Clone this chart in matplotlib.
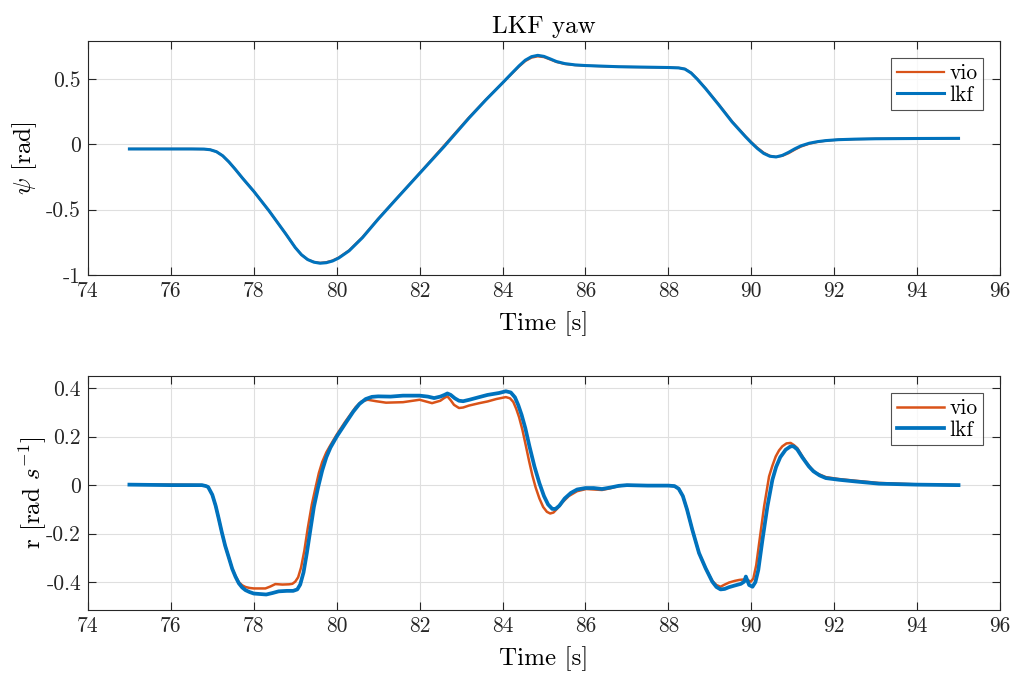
import matplotlib
matplotlib.use("Agg")
import matplotlib.pyplot as plt

plt.rcParams['font.family'] = 'serif'
plt.rcParams['font.serif'] = ['cmr10', 'DejaVu Serif']
plt.rcParams['mathtext.fontset'] = 'cm'
plt.rcParams['axes.unicode_minus'] = False

# ---- yaw angle psi [rad] ----
t_psi = [75.0, 76.5, 76.8, 76.95, 77.1, 77.25, 77.4, 77.55, 77.73, 78.0, 78.37, 78.77,
         79.0, 79.15, 79.3, 79.45, 79.6, 79.75, 79.9, 80.05, 80.3, 80.62, 81.0, 81.42,
         82.0, 82.59, 83.19, 83.6, 84.0, 84.2, 84.4, 84.55, 84.7, 84.85, 85.0, 85.15,
         85.3, 85.5, 85.75, 86.0, 86.8, 88.0, 88.25, 88.4, 88.55, 88.7, 88.9, 89.22,
         89.54, 89.86, 90.0, 90.15, 90.3, 90.45, 90.6, 90.75, 90.9, 91.05, 91.2, 91.4,
         91.6, 91.8, 92.1, 92.5, 93.0, 94.0, 95.0]
psi_lkf = [-0.036, -0.036, -0.037, -0.042, -0.057, -0.088, -0.135, -0.19, -0.26, -0.36, -0.51, -0.685,
           -0.79, -0.845, -0.882, -0.902, -0.91, -0.906, -0.893, -0.870, -0.815, -0.715, -0.573, -0.425,
           -0.223, -0.018, 0.20, 0.34, 0.469, 0.535, 0.60, 0.643, 0.67, 0.68, 0.672, 0.653,
           0.633, 0.617, 0.607, 0.602, 0.593, 0.587, 0.584, 0.575, 0.545, 0.497, 0.425, 0.30,
           0.17, 0.058, 0.012, -0.033, -0.07, -0.092, -0.097, -0.085, -0.062, -0.035, -0.012, 0.008,
           0.02, 0.028, 0.035, 0.039, 0.042, 0.044, 0.045]
psi_vio = [-0.036, -0.036, -0.037, -0.042, -0.057, -0.088, -0.135, -0.19, -0.26, -0.36, -0.51, -0.685,
           -0.79, -0.845, -0.882, -0.900, -0.907, -0.902, -0.889, -0.866, -0.811, -0.711, -0.570, -0.423,
           -0.221, -0.010, 0.205, 0.342, 0.469, 0.532, 0.595, 0.636, 0.662, 0.672, 0.666, 0.648,
           0.629, 0.614, 0.605, 0.601, 0.592, 0.587, 0.584, 0.576, 0.547, 0.499, 0.427, 0.303,
           0.174, 0.062, 0.017, -0.027, -0.064, -0.088, -0.097, -0.089, -0.069, -0.042, -0.018, 0.004,
           0.018, 0.027, 0.035, 0.039, 0.042, 0.044, 0.045]

# ---- yaw rate r [rad/s] ----
t_r_lkf = [75.0, 75.5, 76.0, 76.5, 76.75, 76.85, 76.9, 77.0, 77.08, 77.15, 77.23, 77.31,
           77.4, 77.48, 77.56, 77.64, 77.72, 77.8, 77.9, 78.0, 78.15, 78.3, 78.45, 78.6,
           78.8, 78.95, 79.05, 79.12, 79.2, 79.28, 79.36, 79.45, 79.55, 79.65, 79.75, 79.85,
           80.0, 80.2, 80.4, 80.55, 80.7, 80.85, 81.0, 81.3, 81.6, 82.0, 82.2, 82.35,
           82.5, 82.6, 82.67, 82.75, 82.85, 82.95, 83.05, 83.2, 83.44, 83.64, 83.92, 84.08,
           84.2, 84.3, 84.38, 84.46, 84.55, 84.65, 84.77, 84.89, 85.0, 85.1, 85.2, 85.28,
           85.37, 85.5, 85.65, 85.8, 86.0, 86.2, 86.4, 86.6, 86.8, 87.0, 87.5, 88.0,
           88.15, 88.25, 88.35, 88.45, 88.58, 88.74, 88.9, 89.06, 89.16, 89.26, 89.36, 89.46,
           89.6, 89.75, 89.83, 89.87, 89.91, 89.95, 90.03, 90.1, 90.17, 90.27, 90.39, 90.51,
           90.6, 90.7, 90.83, 90.95, 91.02, 91.11, 91.23, 91.39, 91.5, 91.65, 91.8, 92.12,
           92.52, 93.08, 94.0, 95.0]
r_lkf = [0.002, 0.001, 0.0, 0.0, 0.0, -0.004, -0.008, -0.04, -0.085, -0.135, -0.195, -0.25,
         -0.30, -0.345, -0.378, -0.405, -0.422, -0.433, -0.441, -0.447, -0.449, -0.451, -0.445, -0.438,
         -0.436, -0.436, -0.43, -0.41, -0.36, -0.28, -0.19, -0.09, -0.01, 0.06, 0.115, 0.155,
         0.20, 0.252, 0.303, 0.335, 0.355, 0.364, 0.366, 0.365, 0.369, 0.369, 0.365, 0.359,
         0.365, 0.372, 0.378, 0.372, 0.358, 0.348, 0.346, 0.352, 0.363, 0.372, 0.38, 0.387,
         0.382, 0.362, 0.33, 0.29, 0.235, 0.16, 0.077, 0.008, -0.045, -0.08, -0.098, -0.098,
         -0.085, -0.055, -0.032, -0.018, -0.012, -0.012, -0.016, -0.01, -0.003, 0.0, -0.002, -0.002,
         -0.004, -0.015, -0.045, -0.10, -0.185, -0.28, -0.343, -0.398, -0.42, -0.43, -0.428, -0.421,
         -0.414, -0.407, -0.398, -0.377, -0.395, -0.412, -0.419, -0.40, -0.35, -0.226, -0.088, 0.022,
         0.075, 0.115, 0.146, 0.16, 0.16, 0.147, 0.115, 0.077, 0.057, 0.04, 0.029, 0.022,
         0.015, 0.006, 0.002, 0.0]
t_r_vio = [75.0, 75.5, 76.0, 76.5, 76.75, 76.85, 76.9, 77.0, 77.08, 77.15, 77.23, 77.31,
           77.4, 77.48, 77.56, 77.64, 77.72, 77.8, 77.9, 78.0, 78.28, 78.4, 78.52, 78.69,
           78.85, 78.93, 79.0, 79.07, 79.14, 79.22, 79.3, 79.4, 79.49, 79.57, 79.65, 79.75,
           79.85, 80.0, 80.2, 80.46, 80.6, 80.75, 80.95, 81.19, 81.6, 82.0, 82.3, 82.5,
           82.6, 82.67, 82.75, 82.83, 82.95, 83.05, 83.19, 83.44, 83.64, 83.85, 84.08, 84.18,
           84.26, 84.33, 84.4, 84.48, 84.56, 84.64, 84.72, 84.8, 84.89, 84.98, 85.07, 85.15,
           85.23, 85.33, 85.45, 85.6, 85.8, 86.02, 86.2, 86.4, 86.6, 86.8, 87.0, 87.5,
           88.0, 88.15, 88.25, 88.35, 88.45, 88.58, 88.74, 88.9, 89.06, 89.16, 89.26, 89.36,
           89.46, 89.6, 89.71, 89.87, 89.99, 90.05, 90.12, 90.19, 90.31, 90.43, 90.51, 90.59,
           90.67, 90.75, 90.85, 90.95, 91.03, 91.11, 91.2, 91.31, 91.45, 91.56, 91.8, 92.12,
           92.52, 93.08, 94.0, 95.0]
r_vio = [0.003, 0.002, 0.002, 0.001, 0.0, -0.004, -0.008, -0.04, -0.085, -0.135, -0.195, -0.25,
         -0.30, -0.345, -0.375, -0.40, -0.413, -0.42, -0.424, -0.426, -0.426, -0.418, -0.408, -0.41,
         -0.409, -0.407, -0.398, -0.38, -0.34, -0.27, -0.18, -0.08, -0.01, 0.05, 0.095, 0.135,
         0.165, 0.208, 0.26, 0.322, 0.345, 0.352, 0.346, 0.34, 0.342, 0.352, 0.338, 0.348,
         0.36, 0.366, 0.35, 0.331, 0.318, 0.32, 0.328, 0.338, 0.345, 0.355, 0.363, 0.358,
         0.343, 0.315, 0.28, 0.228, 0.165, 0.10, 0.04, -0.01, -0.055, -0.09, -0.11, -0.117,
         -0.113, -0.095, -0.07, -0.045, -0.025, -0.016, -0.018, -0.02, -0.013, -0.004, 0.0, -0.002,
         -0.002, -0.004, -0.015, -0.045, -0.10, -0.185, -0.28, -0.343, -0.395, -0.412, -0.419, -0.41,
         -0.402, -0.395, -0.391, -0.388, -0.398, -0.385, -0.33, -0.24, -0.088, 0.036, 0.08, 0.118,
         0.143, 0.16, 0.172, 0.174, 0.165, 0.153, 0.128, 0.098, 0.068, 0.05, 0.033, 0.025,
         0.018, 0.009, 0.003, 0.0]

x_ticks = [74, 76, 78, 80, 82, 84, 86, 88, 90, 92, 94, 96]
psi_ticks = [-1, -0.5, 0, 0.5]
r_ticks = [-0.4, -0.2, 0, 0.2, 0.4]

C_VIO = '#D95319'
C_LKF = '#0072BD'

fig = plt.figure(figsize=(10.18, 6.76), dpi=100)
ax1 = fig.add_axes([0.0864, 0.5932, 0.8959, 0.3462])
ax2 = fig.add_axes([0.0864, 0.0976, 0.8959, 0.3462])


def style(ax, yticks, ylim):
    ax.set_xlim(74, 96)
    ax.set_ylim(*ylim)
    ax.set_xticks(x_ticks)
    ax.set_xticklabels([f'{v:g}' for v in x_ticks])
    ax.set_yticks(yticks)
    ax.set_yticklabels([f'{v:g}' for v in yticks])
    ax.grid(True, color='#dfdfdf', linewidth=0.8)
    ax.set_axisbelow(True)
    ax.tick_params(direction='in', top=True, right=True, length=6, width=0.8,
                   colors='#262626', labelsize=15.5, pad=5)
    for s in ax.spines.values():
        s.set_color('#262626')
        s.set_linewidth(0.8)
    ax.set_xlabel('Time [s]', fontsize=18, labelpad=7)


ax1.plot(t_psi, psi_vio, color=C_VIO, lw=1.6, label='vio')
ax1.plot(t_psi, psi_lkf, color=C_LKF, lw=2.2, label='lkf')
style(ax1, psi_ticks, (-1.0, 0.79))
ax1.set_ylabel(r'$\psi$ [rad]', fontsize=18, labelpad=5)
ax1.set_title('LKF yaw', fontsize=18, pad=6)

ax2.plot(t_r_vio, r_vio, color=C_VIO, lw=1.8, label='vio')
ax2.plot(t_r_lkf, r_lkf, color=C_LKF, lw=2.7, label='lkf')
style(ax2, r_ticks, (-0.515, 0.45))
ax2.set_ylabel(r'r [rad $s^{-1}$]', fontsize=18, labelpad=-2)

for ax in (ax1, ax2):
    leg = ax.legend(loc='upper right', fontsize=15.5, frameon=True, fancybox=False,
                    edgecolor='#262626', handlelength=2.2, handletextpad=0.25,
                    borderpad=0.25, labelspacing=0.1, borderaxespad=0.8)
    leg.get_frame().set_linewidth(0.8)

fig.savefig('out.png', dpi=100, facecolor='white')
